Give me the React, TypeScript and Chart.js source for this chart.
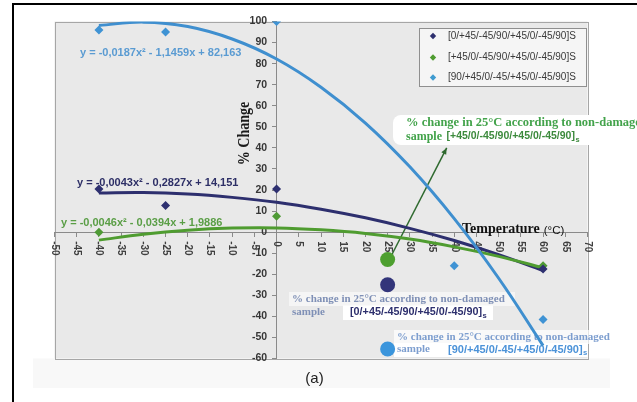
import React, { useEffect, useRef } from "react";
import { Chart, registerables } from "chart.js";

Chart.register(...registerables);

// ---------- data ----------
const seriesNames = [
  "[0/+45/-45/90/+45/0/-45/90]S",
  "[+45/0/-45/90/+45/0/-45/90]S",
  "[90/+45/0/-45/+45/0/-45/90]S",
];

const navyX = [-40, -25, 0, 60];
const navyY = [20.5, 12.7, 20.5, -17.5];
const greenX = [-40, 0, 60];
const greenY = [0, 7.5, -16];
const blueX = [-40, -25, 0, 40, 60];
const blueY = [96, 95, 100, -16, -41.5];

const trendX = [-40, -30, -20, -10, 0, 10, 20, 30, 40, 50, 60];
const navyTrend = [18.6, 18.8, 18.1, 16.5, 14.2, 10.9, 6.8, 1.8, -4.0, -10.7, -18.3];
const greenTrend = [-3.8, -1.0, 0.9, 1.9, 2.0, 1.1, -0.6, -3.3, -7.0, -11.5, -16.9];
const blueTrend = [98.1, 99.7, 97.6, 91.7, 82.2, 68.8, 51.8, 31.0, 6.4, -21.9, -53.9];

const refTemp = [25, 25, 25];
const refValues = [-13, -25, -55.5]; // green, navy, blue

const equations = [
  "y = -0,0187x² - 1,1459x + 82,163",
  "y = -0,0043x² - 0,2827x + 14,151",
  "y = -0,0046x² - 0,0394x + 1,9886",
];

const arrowStart = { x: 26, y: -10.5 };
const arrowEnd = { x: 38.3, y: 40 };

const xRange = [-50, 70];
const yRange = [-60, 100];

const NAVY = "#2d2f6e";
const GREEN = "#4f9c30";
const BLUE = "#3f8fcf";

const pts = (xs: number[], ys: number[]) => xs.map((x, i) => ({ x, y: ys[i] }));

const SANS = '"Liberation Sans", Arial, sans-serif';
const SERIF = '"Liberation Serif", "Times New Roman", serif';

function txt(ctx: CanvasRenderingContext2D, s: string, x: number, y: number, font: string, color: string, align: CanvasTextAlign = "left") {
  ctx.font = font;
  ctx.fillStyle = color;
  ctx.textAlign = align;
  ctx.textBaseline = "middle";
  ctx.fillText(s, x, y);
  return ctx.measureText(s).width;
}

function bracketWithSub(ctx: CanvasRenderingContext2D, s: string, x: number, y: number, size: number, color: string) {
  const w = txt(ctx, s, x, y, `bold ${size}px ${SANS}`, color);
  txt(ctx, "s", x + w + 0.5, y + 3, `bold ${size * 0.7}px ${SANS}`, color);
}

const decor = {
  id: "decor",
  beforeDraw(chart: any) {
    const { ctx, chartArea: a } = chart;
    ctx.save();
    ctx.fillStyle = "#ffffff";
    ctx.fillRect(0, 0, chart.width, chart.height);
    ctx.fillStyle = "#f8f8f8";
    ctx.fillRect(33, a.bottom, 577, 388 - a.bottom);
    ctx.fillStyle = "#e9e9e9";
    ctx.fillRect(a.left, a.top, a.right - a.left, a.bottom - a.top);
    ctx.strokeStyle = "#a6a6a6";
    ctx.lineWidth = 1;
    ctx.strokeRect(Math.round(a.left) + 0.5, Math.round(a.top) + 0.5, Math.round(a.right - a.left), Math.round(a.bottom - a.top));
    ctx.fillStyle = "#000";
    ctx.fillRect(12, 3, chart.width - 12, 2);
    ctx.fillRect(12, 3, 2, chart.height - 3);
    ctx.restore();
  },
  beforeDatasetsDraw(chart: any) {
    const { ctx } = chart;
    const xs = chart.scales.x;
    const ys = chart.scales.y;
    const x0 = xs.getPixelForValue(0);
    const y0 = ys.getPixelForValue(0);
    ctx.save();
    // tick labels
    xs.ticks.forEach((t: any) => {
      const px = xs.getPixelForValue(t.value);
      ctx.save();
      ctx.translate(px, y0 + 9);
      ctx.rotate(Math.PI / 2);
      txt(ctx, String(t.value), 0, 0, `bold 10px ${SANS}`, "#404040");
      ctx.restore();
    });
    ys.ticks.forEach((t: any) => {
      txt(ctx, String(t.value), x0 - 9.5, ys.getPixelForValue(t.value), `bold 10.5px ${SANS}`, "#363636", "right");
    });
    // axis titles
    ctx.save();
    ctx.translate(244.5, 133.5);
    ctx.rotate(-Math.PI / 2);
    ctx.scale(0.85, 1);
    txt(ctx, "% Change", 0, 0, `bold 16.5px ${SERIF}`, "#1a1a1a", "center");
    ctx.restore();
    ctx.font = `bold 14px ${SERIF}`;
    ctx.fillStyle = "#111";
    ctx.textAlign = "left";
    ctx.textBaseline = "alphabetic";
    ctx.fillText("Temperature", 462, 233);
    const tw = ctx.measureText("Temperature").width;
    ctx.font = `11.5px ${SANS}`;
    ctx.fillText("(°C)", 462 + tw + 4, 234);

    // trend equations
    txt(ctx, equations[0], 80, 52.7, `bold 11px ${SANS}`, "#5a9bd2");
    txt(ctx, equations[1], 77, 182.7, `bold 11px ${SANS}`, "#2d2f66");
    txt(ctx, equations[2], 61, 222.5, `bold 11px ${SANS}`, "#5a9e46");

    // annotation: green
    ctx.fillStyle = "#ffffff";
    ctx.beginPath();
    ctx.roundRect(393, 115, 260, 30, 8);
    ctx.fill();
    const note = "% change in 25°C according to non-damaged";
    txt(ctx, note, 406, 123, `bold 12.5px ${SERIF}`, "#43a34b");
    txt(ctx, "sample", 406, 136.5, `bold 12px ${SERIF}`, "#43a34b");
    bracketWithSub(ctx, "[+45/0/-45/90/+45/0/-45/90]", 446.5, 136.5, 10.5, "#3c8a3c");

    // annotation: navy
    ctx.fillStyle = "rgba(255,255,255,0.55)";
    ctx.fillRect(289, 292, 226, 14);
    ctx.fillStyle = "#ffffff";
    ctx.fillRect(343, 305.5, 150, 14.5);
    txt(ctx, note, 292, 299, `bold 11px ${SERIF}`, "#7f90b6");
    txt(ctx, "sample", 292, 312.5, `bold 11px ${SERIF}`, "#7f90b6");
    bracketWithSub(ctx, "[0/+45/-45/90/+45/0/-45/90]", 350, 312.5, 10.8, "#2d2f6d");

    // annotation: blue
    ctx.fillStyle = "rgba(255,255,255,0.7)";
    ctx.fillRect(394, 330, 222, 14);
    ctx.fillStyle = "#ffffff";
    ctx.fillRect(394, 343, 194, 14);
    txt(ctx, note, 397, 337, `bold 11px ${SERIF}`, "#7d9ecf");
    txt(ctx, "sample", 397, 349.5, `bold 11px ${SERIF}`, "#7d9ecf");
    bracketWithSub(ctx, "[90/+45/0/-45/+45/0/-45/90]", 448, 349.5, 11, "#4b92d8");

    // arrow
    const ax1 = xs.getPixelForValue(arrowStart.x), ay1 = ys.getPixelForValue(arrowStart.y);
    const ax2 = xs.getPixelForValue(arrowEnd.x), ay2 = ys.getPixelForValue(arrowEnd.y);
    ctx.strokeStyle = "#2f6a2f";
    ctx.fillStyle = "#2f6a2f";
    ctx.lineWidth = 1.5;
    ctx.beginPath();
    ctx.moveTo(ax1, ay1);
    ctx.lineTo(ax2, ay2);
    ctx.stroke();
    const ang = Math.atan2(ay2 - ay1, ax2 - ax1);
    ctx.beginPath();
    ctx.moveTo(ax2, ay2);
    ctx.lineTo(ax2 - 7 * Math.cos(ang - 0.4), ay2 - 7 * Math.sin(ang - 0.4));
    ctx.lineTo(ax2 - 7 * Math.cos(ang + 0.4), ay2 - 7 * Math.sin(ang + 0.4));
    ctx.closePath();
    ctx.fill();
    ctx.restore();
  },
  afterDatasetsDraw(chart: any) {
    const { ctx } = chart;
    ctx.save();
    // legend
    ctx.fillStyle = "#f5f5f5";
    ctx.fillRect(419.5, 28.5, 167, 58);
    ctx.strokeStyle = "#8f8f8f";
    ctx.lineWidth = 1;
    ctx.strokeRect(419.5, 28.5, 167, 58);
    const cols = [NAVY, GREEN, "#3f9bd0"];
    const rows = [36, 57.5, 77.5];
    seriesNames.forEach((name, i) => {
      const cx = 433, cy = rows[i], r = 3.2;
      ctx.fillStyle = cols[i];
      ctx.beginPath();
      ctx.moveTo(cx, cy - r);
      ctx.lineTo(cx + r, cy);
      ctx.lineTo(cx, cy + r);
      ctx.lineTo(cx - r, cy);
      ctx.closePath();
      ctx.fill();
      txt(ctx, name, 448, cy, `10px ${SANS}`, "#3a3a3a");
    });
    txt(ctx, "(a)", 314.5, 378.5, `15px ${SANS}`, "#222", "center");
    ctx.restore();
  },
};

export default function App() {
  const ref = useRef<HTMLCanvasElement | null>(null);
  useEffect(() => {
    if (!ref.current) return;
    const line = (data: number[], color: string, order: number) => ({
      data: pts(trendX, data),
      showLine: true,
      borderColor: color,
      borderWidth: 3,
      pointRadius: 0,
      tension: 0.4,
      fill: false,
      order,
    });
    const diamonds = (xs: number[], ys: number[], color: string) => ({
      data: pts(xs, ys),
      showLine: false,
      pointStyle: "rectRot",
      pointRadius: 4.5,
      backgroundColor: color,
      borderColor: color,
      borderWidth: 0,
      order: 0,
    });
    const chart = new Chart(ref.current, {
      type: "scatter",
      data: {
        datasets: [
          line(blueTrend, BLUE, 1) as any,
          line(greenTrend, GREEN, 2) as any,
          line(navyTrend, NAVY, 3) as any,
          diamonds(navyX, navyY, "#2e3070") as any,
          diamonds(greenX, greenY, "#4f9a36") as any,
          diamonds(blueX, blueY, "#3f93d4") as any,
          {
            data: pts(refTemp, refValues),
            showLine: false,
            pointStyle: "circle",
            pointRadius: 7.5,
            backgroundColor: ["#4d9f2f", "#33357a", "#3b95dc"],
            borderWidth: 0,
            order: 0,
          } as any,
        ],
      },
      options: {
        responsive: false,
        animation: false,
        devicePixelRatio: 1,
        layout: { padding: { left: 54.5, right: 49.5, top: 21.5, bottom: 43.5 } },
        plugins: { legend: { display: false }, tooltip: { enabled: false } },
        scales: {
          x: {
            type: "linear",
            min: xRange[0],
            max: xRange[1],
            position: { y: 0 } as any,
            ticks: { stepSize: 5, display: false },
            grid: { drawOnChartArea: false, tickLength: 4, color: "#8a8a8a" },
            border: { color: "#8a8a8a" },
            afterFit: (s: any) => { s.height = 0; },
          },
          y: {
            type: "linear",
            min: yRange[0],
            max: yRange[1],
            position: { x: 0 } as any,
            ticks: { stepSize: 10, display: false },
            grid: { drawOnChartArea: false, tickLength: 4, color: "#8a8a8a" },
            border: { color: "#8a8a8a" },
            afterFit: (s: any) => { s.width = 0; },
          },
        },
      } as any,
      plugins: [decor],
    });
    return () => chart.destroy();
  }, []);
  return (
    <div style={{ position: "absolute", left: 0, top: 0, width: 637, height: 402 }}>
      <canvas ref={ref} width={637} height={402} style={{ display: "block" }} />
    </div>
  );
}
